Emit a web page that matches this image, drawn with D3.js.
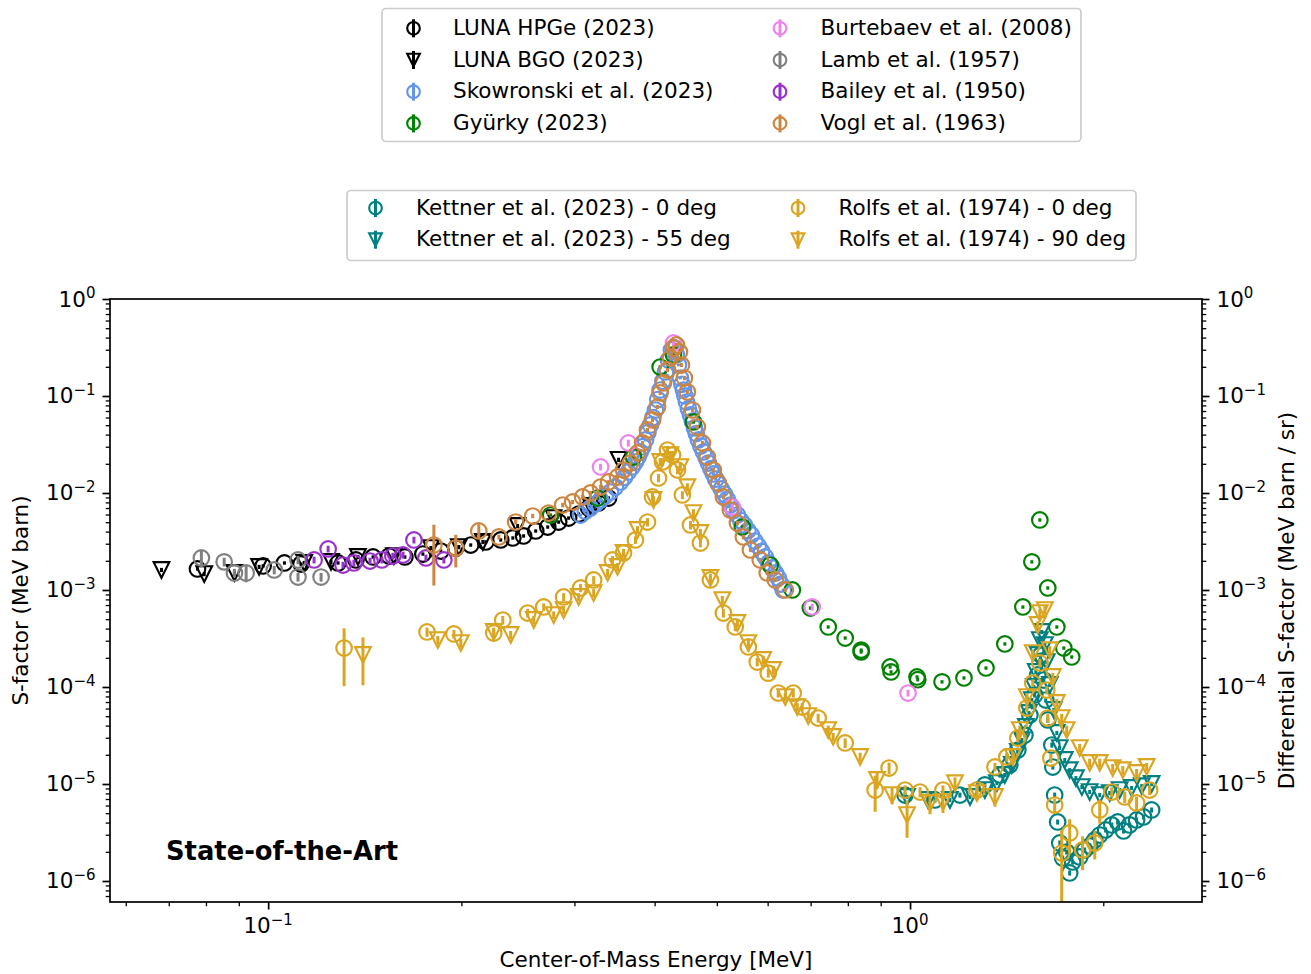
<!DOCTYPE html>
<html>
<head>
<meta charset="utf-8">
<script src="https://cdn.jsdelivr.net/npm/d3@7"></script>
<style>
  body { margin: 0; background: #fff; }
  text { font-family: "DejaVu Sans", sans-serif; }
</style>
</head>
<body>
<div id="chart"></div>
<script>
"use strict";

// ---- data: [E (MeV), S] or [E, S, dS] ----
const lunaHpge = [[0.0776,0.00165],[0.0982,0.00177],[0.106,0.0019],[0.1125,0.00185],[0.1285,0.0019],[0.137,0.00204],
  [0.1457,0.00219],[0.1543,0.00224],[0.1633,0.00219],[0.1742,0.00235],[0.1858,0.00252],[0.196,0.00271],[0.2068,0.00291],
  [0.2183,0.00313],[0.2303,0.00328],[0.2405,0.00344],[0.250,0.00361],[0.2611,0.00406],[0.2726,0.00446],[0.2835,0.00502],
  [0.2938,0.00552],[0.3046,0.00607],[0.3157,0.00701],[0.3271,0.00789],[0.3391,0.00888]];
const lunaBgo = [[0.0682,0.00161],[0.0795,0.00146],[0.0886,0.0015],[0.0968,0.00173],[0.1138,0.0019],[0.1253,0.00195],
  [0.138,0.00219],[0.157,0.00224],[0.1793,0.00271],[0.1982,0.00277],[0.216,0.00313],[0.2447,0.00457],[0.2785,0.00552],
  [0.3178,0.00735],[0.3515,0.022]];
const skowronski = [[0.3067,0.00593],[0.312,0.0065],[0.3178,0.00701],[0.3235,0.0077],[0.3295,0.00847],[0.335,0.0093],
  [0.3415,0.01024],[0.3475,0.0115],[0.354,0.01299],[0.359,0.0145],[0.364,0.01646],[0.369,0.0185],[0.3734,0.02087],
  [0.377,0.0235],[0.380,0.02647],[0.3835,0.030],[0.3871,0.03519],[0.3905,0.042],[0.3941,0.05024],[0.3975,0.060],
  [0.4012,0.07172],[0.4045,0.092],[0.408,0.1153],[0.412,0.142],[0.4159,0.1768],[0.4203,0.235],[0.4249,0.298],
  [0.4295,0.3126],[0.4326,0.2647],[0.4357,0.2087],[0.4387,0.1533],[0.4411,0.132],[0.4436,0.1153],[0.446,0.10],
  [0.4484,0.0867],[0.4515,0.074],[0.4549,0.0637],[0.458,0.055],[0.4614,0.0468],[0.4645,0.041],[0.468,0.03519],
  [0.472,0.0305],[0.4765,0.02647],[0.481,0.0233],[0.485,0.02038],[0.4895,0.0178],[0.4938,0.0157],[0.498,0.0139],
  [0.5027,0.01238],[0.508,0.0110],[0.5137,0.00976],[0.519,0.0086],[0.5248,0.00752],[0.531,0.0066],[0.5383,0.00593],
  [0.545,0.0052],[0.5519,0.00468],[0.559,0.0041],[0.5659,0.00369],[0.573,0.0032],[0.5801,0.00284],[0.587,0.0025],
  [0.5949,0.00219],[0.602,0.0019],[0.6099,0.00169],[0.617,0.0015],[0.6232,0.00133],[0.629,0.00115],[0.6345,0.001]];
const gyurky = [[0.2755,0.00593],[0.3259,0.00888],[0.3708,0.0235],[0.408,0.199],[0.428,0.2647],[0.4598,0.054],
  [0.548,0.00446],[0.6056,0.00181],[0.6556,0.001],[0.6993,0.000652],[0.7456,0.000416],[0.7924,0.00032],
  [0.8392,0.00024],[0.8392,0.00023],[0.931,0.000161],[0.9342,0.000143],[1.0254,0.000127],[1.028,0.000119],
  [1.1215,0.000113],[1.2134,0.000124],[1.3131,0.000157],[1.405,0.000278],[1.499,0.000668],[1.548,0.00195],
  [1.593,0.00527],[1.639,0.00105],[1.693,0.000416],[1.736,0.000252],[1.786,0.000204]];
const burtebaev = [[0.3295,0.01854],[0.364,0.03277],[0.428,0.3519],[0.5285,0.00717],[0.704,0.000668],[0.9929,0.0000867]];
const lamb = [[0.0787,0.00214,0.00043],[0.0854,0.00195,0.0002],[0.0886,0.0015,0.00015],[0.0924,0.0015,0.0003],
  [0.1022,0.00161,0.00016],[0.1113,0.00204,0.0002],[0.1113,0.00136,0.00014],[0.1209,0.00136,0.00014]];
const bailey = [[0.1179,0.00204],[0.124,0.00265],[0.1308,0.00181],[0.136,0.0019],[0.1441,0.00199],[0.1504,0.00204],
  [0.1564,0.00224],[0.1622,0.0023],[0.1687,0.00328],[0.1761,0.00214],[0.1878,0.00204]];
const vogl = [[0.1812,0.00291,0.0018],[0.196,0.00271,0.001],[0.2129,0.00406,0.0007],[0.2288,0.00352,0.0002],
  [0.243,0.00502,0.0003],[0.2583,0.00579,0.0003],[0.2735,0.00622,0.0003],[0.2876,0.00752,0.0004],[0.2981,0.00808,0.0004],
  [0.309,0.0091,0.0005],[0.3178,0.01,0.0005],[0.3295,0.01153,0.0006],[0.3391,0.01299,0.0006],[0.3502,0.01462,0.0007],
  [0.3578,0.01726,0.0009],[0.3668,0.02038,0.001],[0.3762,0.02585,0.0013],[0.3831,0.03277,0.0016],[0.3899,0.04462,0.0022],
  [0.397,0.0566,0.0028],[0.4042,0.077,0.0039],[0.408,0.1074,0.005],[0.4129,0.1362,0.007],[0.4189,0.1854,0.009],
  [0.4234,0.2465,0.012],[0.428,0.3126,0.016],[0.4326,0.3356,0.017],[0.4373,0.2842,0.014],[0.4404,0.2087,0.01],
  [0.4451,0.1533,0.008],[0.4499,0.11,0.0055],[0.4581,0.0717,0.0036],[0.4663,0.0479,0.0024],[0.4748,0.0328,0.0016],
  [0.4833,0.0235,0.0012],[0.4938,0.01726,0.0009],[0.5027,0.01268,0.0006],[0.5119,0.0091,0.0005],[0.5248,0.00668,0.0003],
  [0.5383,0.0049,0.00025],[0.5499,0.00352,0.0002],[0.564,0.00259,0.00013],[0.5843,0.00204,0.0001],
  [0.5991,0.0015,0.00008],[0.6166,0.00127,0.00006],[0.6391,0.001,0.00005]];
const kettner0 = [[0.9823,7.7e-6],[1.0936,6.84e-6],[1.196,7.7e-6],[1.308,9.77e-6],[1.380,1.239e-5],[1.430,1.57e-5],
  [1.472,2.24e-5],[1.510,3.2e-5],[1.537,5.14e-5],[1.564,8.27e-5],[1.581,1.33e-4],[1.598,2.14e-4],[1.616,1.18e-4],
  [1.627,7.34e-5],[1.639,4.57e-5],[1.663,2.52e-5],[1.669,1.497e-5],[1.680,7.7e-6],[1.698,4.06e-6],[1.711,2.47e-6],
  [1.729,1.73e-6],[1.754,1.99e-6],[1.773,1.21e-6],[1.792,1.57e-6],[1.838,1.77e-6],[1.871,2.09e-6],[1.905,2.30e-6],
  [1.940,2.65e-6],[1.975,2.98e-6],[2.017,3.36e-6],[2.062,3.78e-6],[2.106,4.06e-6],[2.151,3.28e-6],[2.198,3.78e-6],
  [2.254,4.26e-6],[2.311,4.57e-6],[2.379,5.4e-6]];
const kettner55 = [[0.9893,7.35e-6],[1.0666,6.84e-6],[1.1538,6.84e-6],[1.240,7.35e-6],[1.308,8.67e-6],[1.3654,1.024e-5],
  [1.405,1.239e-5],[1.4406,1.57e-5],[1.472,2.14e-5],[1.494,2.84e-5],[1.515,3.87e-5],[1.5314,5.4e-5],[1.548,7.34e-5],
  [1.559,1e-4],[1.570,1.43e-4],[1.581,2.14e-4],[1.593,3.05e-4],[1.604,3.69e-4],[1.622,2.71e-4],[1.633,1.81e-4],
  [1.651,1.05e-4],[1.675,5.8e-5],[1.693,3.36e-5],[1.711,2.35e-5],[1.742,1.77e-5],[1.773,1.39e-5],[1.813,1.15e-5],
  [1.852,9.3e-6],[1.905,8.27e-6],[1.975,7.7e-6],[2.047,8.07e-6],[2.121,8.67e-6],[2.214,9.1e-6],[2.296,9.5e-6],[2.379,1e-5]];
const rolfs0 = [[0.1313,2.52e-4,1.5e-4],[0.1768,3.69e-4,4e-5],[0.1947,3.52e-4,3.5e-5],[0.2246,3.6e-4,3.5e-5],
  [0.232,4.9e-4,5e-5],[0.2537,5.79e-4,6e-5],[0.2687,6.68e-4,6e-5],[0.2886,8.47e-4,8e-5],[0.3067,1.05e-3,1e-4],
  [0.3214,1.27e-3,1.2e-4],[0.3439,2.04e-3,2e-4],[0.3578,2.41e-3,2.4e-4],[0.3734,3.28e-3,3e-4],[0.3899,5.02e-3,5e-4],
  [0.397,9.1e-3,9e-4],[0.4056,1.43e-2,1.4e-3],[0.4115,2.09e-2,2e-3],[0.4189,2.77e-2,2.8e-3],[0.4265,2.46e-2,2.5e-3],
  [0.4341,1.73e-2,1.7e-3],[0.4419,9.54e-3,9e-4],[0.4549,4.68e-3,4.7e-4],[0.4714,3.05e-3,3e-4],[0.4886,1.27e-3,1.3e-4],
  [0.5119,5.79e-4,6e-5],[0.5342,4.16e-4,4e-5],[0.5599,2.59e-4,2.6e-5],[0.578,1.81e-4,1.8e-5],[0.6013,1.39e-4,1.4e-5],
  [0.6232,8.67e-5,9e-6],[0.6577,8.67e-5,9e-6],[0.6792,6.22e-5,6e-6],[0.7192,4.79e-5,5e-6],[0.7924,2.65e-5,3e-6],
  [0.8823,8.67e-6,3.5e-6],[0.9276,1.46e-5,2e-6],[0.9823,8.67e-6,1e-6],[1.0365,8.27e-6,1e-6],[1.1254,8.67e-6,1e-6],
  [1.271,8.67e-6,1e-6],[1.356,1.5e-5,1.5e-6],[1.415,1.9e-5,2e-6],[1.472,2.98e-5,3e-6],[1.5205,6.07e-5,6e-6],
  [1.553,1.1e-4,1e-5],[1.593,1.77e-4,1.8e-5],[1.633,9.3e-5,9e-6],[1.639,4.79e-5,5e-6],[1.657,1.85e-5,2e-6],
  [1.68,6.07e-6,1e-6],[1.723,1.94e-6,1.4e-6],[1.773,3.13e-6,1.2e-6],[1.857,2.09e-6,8e-7],[1.94,2.47e-6,8e-7],
  [1.975,5.4e-6,1.5e-6],[2.062,8.27e-6,1e-6],[2.16,7.35e-6,1e-6],[2.254,6.37e-6,1e-6],[2.362,8.67e-6,1e-6]];
const rolfs90 = [[0.1405,2.14e-4,1.1e-4],[0.1838,3.05e-4,3e-5],[0.1996,2.84e-4,3e-5],[0.2246,3.69e-4,4e-5],
  [0.2387,3.44e-4,3.5e-5],[0.2593,4.91e-4,5e-5],[0.2785,5.52e-4,5e-5],[0.2886,6.22e-4,6e-5],[0.3046,8.47e-4,8e-5],
  [0.3214,9.31e-4,9e-5],[0.3379,1.5e-3,1.5e-4],[0.3502,1.73e-3,1.7e-4],[0.3578,2.41e-3,2.4e-4],[0.3762,4.16e-3,4e-4],
  [0.3984,8.47e-3,8e-4],[0.408,2.09e-2,2e-3],[0.4234,2.46e-2,2.5e-3],[0.4387,1.85e-2,1.8e-3],[0.4499,1.15e-2,1.1e-3],
  [0.4598,6.22e-3,6e-4],[0.4714,3.87e-3,4e-4],[0.4886,1.33e-3,1.3e-4],[0.51,7.88e-4,8e-5],[0.5383,4.57e-4,4.5e-5],
  [0.5599,2.84e-4,2.8e-5],[0.5904,1.9e-4,1.9e-5],[0.612,1.5e-4,1.5e-5],[0.6391,7.88e-5,8e-6],[0.6672,6.22e-5,6e-6],
  [0.694,5.02e-5,5e-6],[0.7456,3.6e-5,4e-6],[0.759,3.06e-5,3e-6],[0.836,1.9e-5,2e-6],[0.8886,1.1e-5,2e-6],
  [0.9376,7.7e-6,1.5e-6],[0.9893,4.79e-6,2e-6],[1.0742,6.37e-6,1.5e-6],[1.1254,6.52e-6,1.5e-6],[1.175,1.02e-5,1.5e-6],
  [1.271,8.07e-6,1.2e-6],[1.356,7.35e-6,1.5e-6],[1.446,1.9e-5,2e-6],[1.483,3.6e-5,4e-6],[1.5205,7.88e-5,8e-6],
  [1.553,2.24e-4,2e-5],[1.581,4.36e-4,4e-5],[1.593,5.79e-4,6e-5],[1.622,6.22e-4,6e-5],[1.651,2.4e-4,2.4e-5],
  [1.669,1.27e-4,1.3e-5],[1.693,6.84e-5,7e-6],[1.723,4.79e-5,5e-6],[1.754,3.6e-5,4e-6],[1.838,2.35e-5,2.4e-6],
  [1.905,1.65e-5,1.7e-6],[1.975,1.65e-5,1.7e-6],[2.069,1.46e-5,1.5e-6],[2.145,1.39e-5,1.4e-6],[2.254,1.3e-5,1.3e-6],
  [2.337,1.5e-5,1.5e-6]];

// tick values
const xMajorTicks = [0.1, 1];
const xMinorTicks = [0.06, 0.07, 0.08, 0.09, 0.2, 0.3, 0.4, 0.5, 0.6, 0.7, 0.8, 0.9, 2];
const yMajorTicks = [1e-6, 1e-5, 1e-4, 1e-3, 1e-2, 1e-1, 1];
const minorMultipliers = [2, 3, 4, 5, 6, 7, 8, 9];

// layout
const msm = { width: 1311, height: 974, left: 110, right: 1202, top: 299, bottom: 902 };
const xDomain = [0.0567, 2.85];
const yDomain = [Math.pow(10, -6.2165), 1];
const fontSize = 21.5;
const supSize = 15;
const markerR = 7.8;
const legendMarkerR = 6.3;
const markerStroke = 2.15;
const errStroke = 3;

// series settings (legend order)
const seriesLeft = [
  { name: "LUNA HPGe (2023)", data: lunaHpge, color: "black", marker: "o", relErr: 0.04 },
  { name: "LUNA BGO (2023)", data: lunaBgo, color: "black", marker: "v", relErr: 0.05 },
  { name: "Skowronski et al. (2023)", data: skowronski, color: "cornflowerblue", marker: "o", relErr: 0.03 },
  { name: "Gyürky (2023)", data: gyurky, color: "green", marker: "o", relErr: 0.04 },
  { name: "Burtebaev et al. (2008)", data: burtebaev, color: "violet", marker: "o", relErr: 0.08 },
  { name: "Lamb et al. (1957)", data: lamb, color: "gray", marker: "o", relErr: 0.1 },
  { name: "Bailey et al. (1950)", data: bailey, color: "darkorchid", marker: "o", relErr: 0.08 },
  { name: "Vogl et al. (1963)", data: vogl, color: "peru", marker: "o", relErr: 0.05 }
];
const seriesRight = [
  { name: "Kettner et al. (2023) - 0 deg", data: kettner0, color: "teal", marker: "o", relErr: 0.06 },
  { name: "Kettner et al. (2023) - 55 deg", data: kettner55, color: "teal", marker: "v", relErr: 0.05 },
  { name: "Rolfs et al. (1974) - 0 deg", data: rolfs0, color: "goldenrod", marker: "o", relErr: 0.1 },
  { name: "Rolfs et al. (1974) - 90 deg", data: rolfs90, color: "goldenrod", marker: "v", relErr: 0.1 }
];

const svg = d3.select("#chart").append("svg")
  .attr("width", msm.width)
  .attr("height", msm.height);

const x = d3.scaleLog().domain(xDomain).range([msm.left, msm.right]);
const y = d3.scaleLog().domain(yDomain).range([msm.bottom, msm.top]);

svg.append("clipPath").attr("id", "plotArea")
  .append("rect")
  .attr("x", msm.left).attr("y", msm.top)
  .attr("width", msm.right - msm.left)
  .attr("height", msm.bottom - msm.top);

const plot = svg.append("g").attr("clip-path", "url(#plotArea)");

// draw a marker (circle or down triangle) centered on cx, cy
function drawMarker(g, kind, cx, cy, color, r) {
  if (kind === "o") {
    g.append("circle")
      .attr("cx", cx).attr("cy", cy).attr("r", r)
      .attr("fill", "none").attr("stroke", color).attr("stroke-width", markerStroke);
  } else {
    g.append("path")
      .attr("d", `M${cx - r},${cy - r}L${cx + r},${cy - r}L${cx},${cy + r}Z`)
      .attr("fill", "none").attr("stroke", color).attr("stroke-width", markerStroke)
      .attr("stroke-linejoin", "miter");
  }
}

function plotSeries(s) {
  const g = plot.append("g");
  const rows = s.data.map(d => ({ e: d[0], s: d[1], err: d.length > 2 ? d[2] : d[1] * s.relErr }));
  g.selectAll(".err")
    .data(rows)
    .enter()
    .append("line")
    .attr("class", "err")
    .attr("x1", d => x(d.e)).attr("x2", d => x(d.e))
    .attr("y1", d => y(Math.max(d.s - d.err, yDomain[0] * 0.01)))
    .attr("y2", d => y(d.s + d.err))
    .attr("stroke", s.color)
    .attr("stroke-width", errStroke);
  rows.forEach(d => drawMarker(g, s.marker, x(d.e), y(d.s), s.color, markerR));
}

seriesLeft.forEach(plotSeries);
seriesRight.forEach(plotSeries);

// minor y ticks
const yMinorTicks = [];
for (let k = -7; k < 0; k++) {
  minorMultipliers.forEach(m => {
    const v = m * Math.pow(10, k);
    if (v >= yDomain[0] && v <= yDomain[1]) yMinorTicks.push(v);
  });
}

function styleAxis(g, width) {
  g.select(".domain").remove();
  g.selectAll("text").remove();
  g.selectAll("line").attr("stroke", "black").attr("stroke-width", width);
}

svg.append("g").attr("transform", `translate(${msm.left},0)`)
  .call(d3.axisLeft(y).tickValues(yMinorTicks).tickSize(4.3).tickFormat(""))
  .call(g => styleAxis(g, 1.3));
svg.append("g").attr("transform", `translate(${msm.left},0)`)
  .call(d3.axisLeft(y).tickValues(yMajorTicks).tickSize(7.5).tickFormat(""))
  .call(g => styleAxis(g, 1.7));
svg.append("g").attr("transform", `translate(${msm.right},0)`)
  .call(d3.axisRight(y).tickValues(yMinorTicks).tickSize(4.3).tickFormat(""))
  .call(g => styleAxis(g, 1.3));
svg.append("g").attr("transform", `translate(${msm.right},0)`)
  .call(d3.axisRight(y).tickValues(yMajorTicks).tickSize(7.5).tickFormat(""))
  .call(g => styleAxis(g, 1.7));
svg.append("g").attr("transform", `translate(0,${msm.bottom})`)
  .call(d3.axisBottom(x).tickValues(xMinorTicks).tickSize(4.3).tickFormat(""))
  .call(g => styleAxis(g, 1.3));
svg.append("g").attr("transform", `translate(0,${msm.bottom})`)
  .call(d3.axisBottom(x).tickValues(xMajorTicks).tickSize(7.5).tickFormat(""))
  .call(g => styleAxis(g, 1.7));

// frame
svg.append("rect")
  .attr("x", msm.left).attr("y", msm.top)
  .attr("width", msm.right - msm.left).attr("height", msm.bottom - msm.top)
  .attr("fill", "none").attr("stroke", "black").attr("stroke-width", 1.7);

// power-of-ten tick labels
function powLabel(t, v) {
  const e = Math.round(Math.log10(v));
  t.append("tspan").text("10");
  t.append("tspan").attr("dy", -8.5).attr("font-size", supSize)
    .text(e < 0 ? "\u2212" + (-e) : String(e));
}

yMajorTicks.forEach(v => {
  svg.append("text").attr("x", msm.left - 14.5).attr("y", y(v) + 7.5)
    .attr("text-anchor", "end").attr("font-size", fontSize).call(t => powLabel(t, v));
  svg.append("text").attr("x", msm.right + 14.5).attr("y", y(v) + 7.5)
    .attr("text-anchor", "start").attr("font-size", fontSize).call(t => powLabel(t, v));
});
xMajorTicks.forEach(v => {
  svg.append("text").attr("x", x(v)).attr("y", 933)
    .attr("text-anchor", "middle").attr("font-size", fontSize).call(t => powLabel(t, v));
});

// axis labels
svg.append("text")
  .attr("x", (msm.left + msm.right) / 2).attr("y", 967)
  .attr("text-anchor", "middle").attr("font-size", fontSize)
  .text("Center-of-Mass Energy [MeV]");
svg.append("text")
  .attr("transform", `translate(28,${(msm.top + msm.bottom) / 2}) rotate(-90)`)
  .attr("text-anchor", "middle").attr("font-size", fontSize)
  .text("S-factor (MeV barn)");
svg.append("text")
  .attr("transform", `translate(1294,${(msm.top + msm.bottom) / 2}) rotate(-90)`)
  .attr("text-anchor", "middle").attr("font-size", fontSize)
  .text("Differential S-factor (MeV barn / sr)");

svg.append("text")
  .attr("x", 166).attr("y", 860)
  .attr("font-size", 25.8).attr("font-weight", "bold")
  .text("State-of-the-Art");

// legends
function drawLegend(series, box, cols) {
  const lg = svg.append("g");
  lg.append("rect")
    .attr("x", box.x).attr("y", box.y).attr("width", box.w).attr("height", box.h)
    .attr("rx", 4).attr("fill", "white").attr("fill-opacity", 0.8)
    .attr("stroke", "#cccccc").attr("stroke-width", 1.7);
  const perCol = Math.ceil(series.length / cols.length);
  series.forEach((s, i) => {
    const c = cols[Math.floor(i / perCol)];
    const cy = box.row0 + (i % perCol) * box.rowStep;
    lg.append("line")
      .attr("x1", c.mx).attr("x2", c.mx).attr("y1", cy - 9).attr("y2", cy + 9)
      .attr("stroke", s.color).attr("stroke-width", errStroke);
    drawMarker(lg, s.marker, c.mx, cy, s.color, legendMarkerR);
    lg.append("text").attr("x", c.tx).attr("y", cy + 6.5)
      .attr("font-size", fontSize).text(s.name);
  });
}

drawLegend(seriesLeft,
  { x: 382, y: 8.5, w: 699, h: 133, row0: 28.3, rowStep: 31.7 },
  [{ mx: 413.5, tx: 453 }, { mx: 780, tx: 820.5 }]);
drawLegend(seriesRight,
  { x: 347, y: 190.5, w: 789, h: 70, row0: 208, rowStep: 31.7 },
  [{ mx: 375.5, tx: 416 }, { mx: 798, tx: 838.5 }]);
</script>
</body>
</html>
